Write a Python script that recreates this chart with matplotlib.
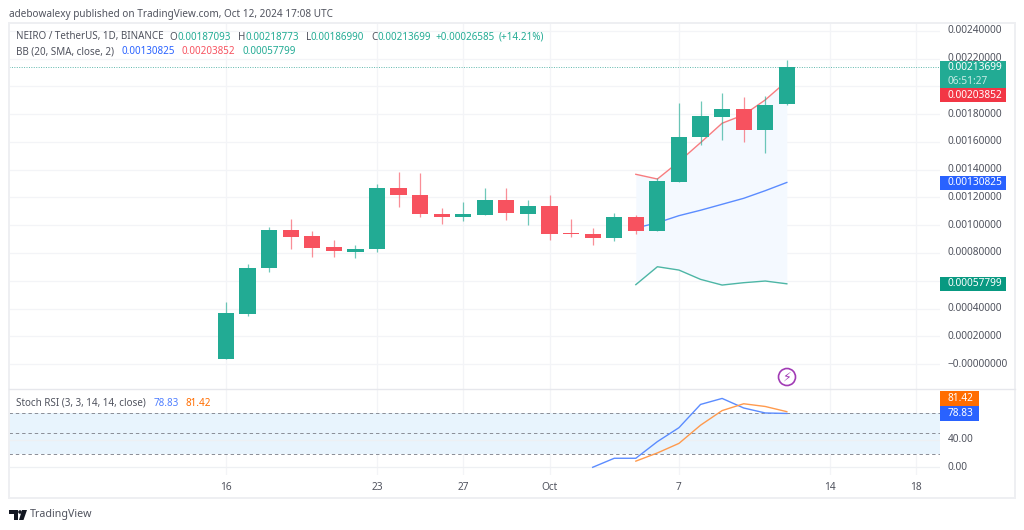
import numpy as np
import matplotlib
matplotlib.use("Agg")
import matplotlib.pyplot as plt
from matplotlib.patches import Rectangle, Polygon, Circle

plt.rcParams['font.family'] = ['Noto Sans', 'DejaVu Sans']

W, H = 1024, 530
TEAL = '#22ab94'
RED = '#f7525f'
BLUE = '#2962ff'
ORANGE = '#ff6d00'
TXT = '#50535e'
GRID = '#f3f4f7'

# days counted from Sep 16
days = list(range(27))
opens = [0.000034, 0.000360, 0.000690, 0.000968, 0.000920, 0.000841, 0.000809, 0.000827, 0.001266,
         0.001220, 0.001083, 0.001057, 0.001074, 0.001184, 0.001083, 0.001139, 0.000944, 0.000935,
         0.000906, 0.001062, 0.000961, 0.001314, 0.001634, 0.001782, 0.001840, 0.001689, 0.00187093]
highs = [0.000447, 0.000719, 0.000987, 0.001043, 0.000961, 0.000894, 0.000858, 0.001297, 0.001384,
         0.001377, 0.001122, 0.001168, 0.001268, 0.001268, 0.001180, 0.001218, 0.001047, 0.000982,
         0.001088, 0.001074, 0.001338, 0.001881, 0.001895, 0.001953, 0.001926, 0.001932, 0.00218773]
lows = [0.000034, 0.000348, 0.000665, 0.000827, 0.000771, 0.000771, 0.000766, 0.000809, 0.001129,
        0.001062, 0.001009, 0.001033, 0.001074, 0.001038, 0.001002, 0.000894, 0.000917, 0.000855,
        0.000889, 0.000937, 0.000961, 0.001314, 0.001578, 0.001614, 0.001600, 0.001523, 0.00186990]
closes = [0.000365, 0.000694, 0.000968, 0.000917, 0.000836, 0.000812, 0.000831, 0.001266, 0.001216,
          0.001079, 0.001057, 0.001079, 0.001184, 0.001086, 0.001139, 0.000939, 0.000935, 0.000906,
          0.001062, 0.000961, 0.001319, 0.001638, 0.001785, 0.001840, 0.001689, 0.001869, 0.00213699]

bb_days = [19, 20, 21, 22, 23, 24, 25, 26]
bb_upper = [0.001367, 0.001333, 0.001458, 0.001595, 0.001735, 0.001795, 0.001903, 0.00203852]
bb_basis = [0.000980, 0.001018, 0.001069, 0.001108, 0.001151, 0.001194, 0.001249, 0.00130825]
bb_lower = [0.000572, 0.000701, 0.000677, 0.000610, 0.000569, 0.000586, 0.000598, 0.00057799]

k_days = [17, 18, 19, 20, 21, 22, 23, 24, 25, 26]
k_vals = [0, 13.2, 13.2, 37.6, 58, 92, 100.8, 86.8, 79.5, 78.83]
d_days = [19, 20, 21, 22, 23, 24, 25, 26]
d_vals = [9, 21, 35, 61.6, 83, 93, 89, 81.42]

price_ticks = [0.0, 0.0002, 0.0004, 0.0006, 0.0008, 0.0010, 0.0012, 0.0014, 0.0016, 0.0018, 0.0020, 0.0022, 0.0024]
# 0.0006 and 0.0020 sit behind the price tags, so they get no label
price_labels = ['\u22120.00000000', '0.00020000', '0.00040000', '', '0.00080000', '0.00100000',
                '0.00120000', '0.00140000', '0.00160000', '0.00180000', '', '0.00220000', '0.00240000']
date_ticks = [0, 7, 11, 15, 21, 28, 32]
date_labels = ['16', '23', '27', 'Oct', '7', '14', '18']


def fx(x):
    return x / W


def fy(y):
    return 1 - y / H


def ftext(x, y, s, color=TXT, size=7.3, **kw):
    return fig.text(fx(x), fy(y), s, color=color, fontsize=size, va='center', **kw)


def run_text(x, y, parts):
    # lay out coloured pieces one after the other
    for s, color, gap in parts:
        t = ftext(x, y, s, color=color, size=7.1)
        x = t.get_window_extent(renderer).x1 + gap


fig = plt.figure(figsize=(W / 100, H / 100), dpi=100, facecolor='white')
renderer = fig.canvas.get_renderer()

ax = fig.add_axes([fx(9), fy(389), fx(931), (389 - 24) / H])
ax2 = fig.add_axes([fx(9), fy(475), fx(931), (475 - 389) / H])

day_px = 21.57
for a in (ax, ax2):
    a.set_xlim((9 - 226) / day_px, (940 - 226) / day_px)
    a.set_xticks([])
    a.set_yticks([])
    for s in a.spines.values():
        s.set_visible(False)
    for d in date_ticks:
        a.axvline(d, color=GRID, lw=0.9, zorder=0)

ax.set_ylim(-0.00018, 0.00245)
ax2.set_ylim(-11.3, 114.6)

for p in price_ticks:
    ax.axhline(p, color=GRID, lw=0.9, zorder=0)

# bollinger band
ax.fill_between(bb_days, bb_lower, bb_upper, color='#f4f9ff', lw=0, zorder=1)
ax.plot(bb_days, bb_upper, color='#f77c80', lw=1.0, zorder=2)
ax.plot(bb_days, bb_basis, color='#5b8cff', lw=1.0, zorder=2)
ax.plot(bb_days, bb_lower, color='#4db6a5', lw=1.0, zorder=2)

# candles
for d, o, h, l, c in zip(days, opens, highs, lows, closes):
    col = TEAL if c >= o else RED
    ax.vlines(d, l, h, color=col, lw=0.9, alpha=0.65, zorder=3)
    ax.bar(d, abs(c - o), bottom=min(o, c), width=0.75, color=col, lw=0, zorder=4)

ax.axhline(closes[-1], color='#5fb8ac', lw=0.7, ls=(0, (1, 1.5)), zorder=2)

# lightning marker
fig.add_artist(Circle((787, H - 377), 8.5, transform=None, fc='white', ec='#a13bb5', lw=1.2))
ftext(787, 377, '\u26a1', color='#a13bb5', size=9, ha='center', family='DejaVu Sans')

# stoch rsi pane
ax2.axhspan(20, 80, color='#e8f4fd', lw=0, zorder=1)
for level in (0, 40):
    ax2.axhline(level, color='#eef0f3', lw=0.9, zorder=1.5)
for level in (20, 50, 80):
    ax2.axhline(level, color='#8a8d96', lw=0.7, ls=(0, (3.5, 3)), zorder=2)
ax2.plot(k_days, k_vals, color='#5b8cff', lw=1.0, zorder=3)
ax2.plot(d_days, d_vals, color='#ff9a4d', lw=1.0, zorder=3)

# price axis labels
for p, lab in zip(price_ticks, price_labels):
    if lab:
        y = H - ax.transData.transform((0, p))[1]
        ftext(948, y, lab)
ftext(948, H - ax2.transData.transform((0, 40))[1], '40.00')
ftext(948, H - ax2.transData.transform((0, 0))[1], '0.00')


def tag(y0, y1, color, lines, x1=1006):
    fig.add_artist(Rectangle((940, H - y1), x1 - 940, y1 - y0, transform=None, fc=color, ec='none', zorder=5))
    for yy, s, c in lines:
        ftext(948, yy, s, color=c, zorder=6)


tag(60.7, 87.7, TEAL, [(68, '0.00213699', 'white'), (81, '06:51:27', '#c8ece6')])
tag(87.7, 102.3, '#f23645', [(95, '0.00203852', 'white')])
tag(175.7, 190, BLUE, [(182.8, '0.00130825', 'white')])
tag(276.5, 291, '#089981', [(283.8, '0.00057799', 'white')])
tag(391, 405.7, ORANGE, [(398.3, '81.42', 'white')], x1=979)
tag(405.7, 420.5, BLUE, [(413, '78.83', 'white')], x1=979)

# date labels
for d, lab in zip(date_ticks, date_labels):
    ftext(226 + d * day_px, 487, lab, ha='center',
          fontweight='bold' if lab == 'Oct' else 'normal')

# frame
fig.add_artist(Rectangle((9, H - 498), 1006, 475, transform=None, fc='none', ec='#eeeff2', lw=1.4))
fig.add_artist(plt.Line2D([fx(9), fx(1015)], [fy(389), fy(389)], color='#e6e7ec', lw=1))

# header and legends
ftext(9, 14, 'adebowalexy published on TradingView.com, Oct 12, 2024 17:08 UTC', size=7.2)
run_text(16, 37, [('NEIRO / TetherUS, 1D, BINANCE', TXT, 6),
                  ('O', TXT, 0), ('0.00187093', TEAL, 7),
                  ('H', TXT, 0), ('0.00218773', TEAL, 7),
                  ('L', TXT, 0), ('0.00186990', TEAL, 7),
                  ('C', TXT, 0), ('0.00213699', TEAL, 4),
                  ('+0.00026585', TEAL, 4), ('(+14.21%)', TEAL, 0)])
run_text(16, 52, [('BB (20, SMA, close, 2)', TXT, 7),
                  ('0.00130825', BLUE, 7), ('0.00203852', RED, 7), ('0.00057799', TEAL, 0)])
run_text(16, 403, [('Stoch RSI (3, 3, 14, 14, close)', TXT, 8),
                   ('78.83', '#4f7fff', 7), ('81.42', ORANGE, 0)])

# tradingview logo
logo = '#131722'
for pts in ([(9, 510), (18, 510), (18, 520), (14, 520), (14, 514), (9, 514)],
            [(22, 510), (27, 510), (23.5, 520), (19, 520)]):
    fig.add_artist(Polygon([(x, H - y) for x, y in pts], transform=None, fc=logo, ec='none'))
fig.add_artist(Circle((20, H - 512), 1.8, transform=None, fc=logo, ec='none'))
ftext(30, 515, 'TradingView', color='#50535e', size=7.7)

fig.savefig('out.png', dpi=100)
